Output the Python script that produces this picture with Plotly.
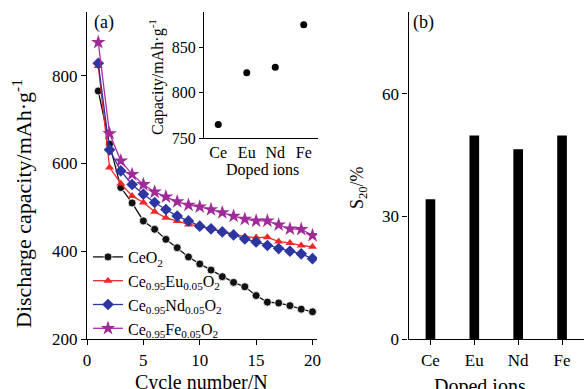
import plotly.graph_objects as go

cycles = list(range(1, 21))
ceo2 = [765, 644, 545, 510, 469, 450, 427, 408, 387, 371, 357, 342, 329, 319, 299, 284, 282, 276, 268, 262]
eu = [822, 591, 554, 526, 511, 490, 476, 469, 461, 457, 451, 444, 438, 433, 431, 432, 422, 419, 413, 410]
nd = [828, 631, 583, 552, 530, 511, 495, 480, 469, 457, 451, 444, 437, 428, 421, 413, 406, 400, 394, 383]
fe = [876, 668, 606, 575, 552, 535, 524, 513, 505, 501, 495, 488, 480, 473, 469, 469, 460, 451, 450, 436]

ions = ["Ce", "Eu", "Nd", "Fe"]
initial_capacity = [765, 822, 828, 875]
s20 = [34.2, 49.8, 46.4, 49.8]

names = ["CeO<sub>2</sub>",
         "Ce<sub>0.95</sub>Eu<sub>0.05</sub>O<sub>2</sub>",
         "Ce<sub>0.95</sub>Nd<sub>0.05</sub>O<sub>2</sub>",
         "Ce<sub>0.95</sub>Fe<sub>0.05</sub>O<sub>2</sub>"]

FONT = "Liberation Serif"
W, H = 584, 389

def px(x):
    return x / W

def py(y):
    return 1 - y / H

fig = go.Figure()

styles = [
    (ceo2, "#111111", "circle", 8, "#111111"),
    (eu, "#ee2828", "triangle-up", 8, "#ee2828"),
    (nd, "#2d35a0", "diamond", 9, "#2d35a0"),
    (fe, "#b02ca8", "star", 11, "#a02a98"),
]
for (vals, col, sym, sz, mcol), nm in zip(styles, names):
    fig.add_trace(go.Scatter(
        x=cycles, y=vals, name=nm, mode="lines+markers",
        line=dict(color=col, width=1.3),
        marker=dict(symbol=sym, size=sz, color=mcol,
                    line=dict(color="white" if sym == "circle" else mcol,
                              width=0.8 if sym == "circle" else 0)),
        xaxis="x", yaxis="y",
    ))

fig.add_trace(go.Scatter(
    x=ions, y=initial_capacity, mode="markers", showlegend=False,
    marker=dict(color="black", size=7), xaxis="x2", yaxis="y2",
))

fig.add_trace(go.Bar(
    x=ions, y=s20, showlegend=False, width=0.22,
    marker=dict(color="black", line=dict(width=0)), xaxis="x3", yaxis="y3",
))

axis_common = dict(showline=True, linecolor="black", linewidth=1.2, ticks="outside",
                   ticklen=5, tickcolor="black", tickwidth=1.2, showgrid=False, zeroline=False,
                   automargin=False,
                   tickfont=dict(family=FONT, size=17, color="black"))
inset_font = dict(family=FONT, size=16, color="black")

fig.update_layout(
    width=W, height=H, autosize=False,
    margin=dict(l=0, r=0, t=0, b=0, pad=0, autoexpand=False),
    paper_bgcolor="white", plot_bgcolor="rgba(0,0,0,0)",
    font=dict(family=FONT, color="black"),
    xaxis=dict(domain=[px(87), px(317)], range=[0, 20.4], tickvals=[0, 5, 10, 15, 20],
               anchor="y", **axis_common),
    yaxis=dict(domain=[py(339), py(12)], range=[200, 945], tickvals=[200, 400, 600, 800],
               anchor="x", **axis_common),
    xaxis2=dict(domain=[px(204), px(318)], range=[-0.5, 3.5], anchor="y2",
                type="category", **{**axis_common, "ticks": "", "tickfont": inset_font}),
    yaxis2=dict(domain=[py(138), py(12)], range=[750, 889], tickvals=[750, 800, 850],
                anchor="x2", **{**axis_common, "ticklen": 4, "tickfont": inset_font}),
    xaxis3=dict(domain=[px(408.5), 1.0], range=[-0.5, 3.5], anchor="y3",
                type="category", **axis_common),
    yaxis3=dict(domain=[py(339), py(12)], range=[0, 80], tickvals=[0, 30, 60],
                anchor="x3", **axis_common),
    legend=dict(x=px(88), y=py(240), xanchor="left", yanchor="top",
                font=dict(family=FONT, size=16, color="black"),
                bgcolor="rgba(0,0,0,0)", tracegroupgap=0, itemwidth=30),
    showlegend=True,
)

ann = [
    dict(text="Discharge capacity/mAh·g<sup>-1</sup>", x=px(22), y=py(204), textangle=-90, size=22),
    dict(text="Cycle number/N", x=px(201), y=py(382), textangle=0, size=20),
    dict(text="Capacity/mAh·g<sup>-1</sup>", x=px(156), y=py(77), textangle=-90, size=16),
    dict(text="Doped ions", x=px(262), y=py(170), textangle=0, size=16),
    dict(text="S<sub>20</sub>/%", x=px(358), y=py(188), textangle=-90, size=18),
    dict(text="Doped ions", x=px(480), y=py(386), textangle=0, size=20),
    dict(text="(a)", x=px(104), y=py(22), textangle=0, size=18),
    dict(text="(b)", x=px(423), y=py(22), textangle=0, size=18),
]
for a in ann:
    fig.add_annotation(text=a["text"], x=a["x"], y=a["y"], xref="paper", yref="paper",
                       xanchor="center", yanchor="middle", showarrow=False,
                       textangle=a["textangle"], font=dict(family=FONT, size=a["size"], color="black"))

fig.write_html("out.html", config={"displayModeBar": False},
               post_script="document.documentElement.style.margin='0';document.body.style.margin='0';"
                           "document.documentElement.style.overflow='hidden';document.body.style.overflow='hidden';")
